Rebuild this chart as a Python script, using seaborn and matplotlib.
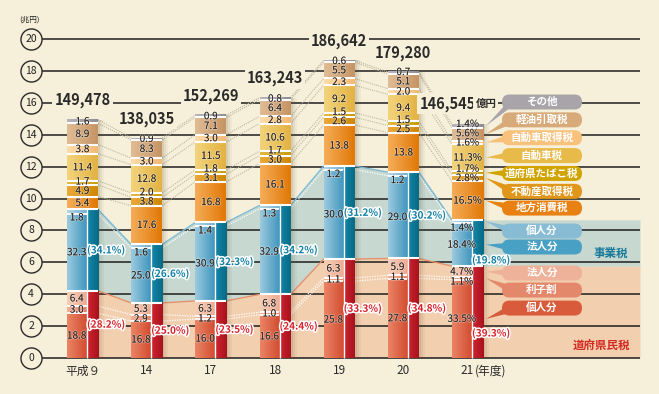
import numpy as np
import matplotlib
matplotlib.use("Agg")
import matplotlib.pyplot as plt
import matplotlib.patheffects as pe
from matplotlib.patches import FancyBboxPatch, Polygon
from matplotlib.colors import LinearSegmentedColormap
import seaborn as sns

# ---- data (shares in %, bottom to top) ----
years = ["平成９", "14", "17", "18", "19", "20", "21"]
totals = [149478, 138035, 152269, 163243, 186642, 179280, 146545]  # 億円

kenmin_kojin = [18.8, 16.8, 16.0, 16.6, 25.8, 27.8, 33.5]
kenmin_rishi = [3.0, 2.9, 1.2, 1.0, 1.1, 1.1, 1.1]
kenmin_hojin = [6.4, 5.3, 6.3, 6.8, 6.3, 5.9, 4.7]
jigyo_hojin = [32.3, 25.0, 30.9, 32.9, 30.0, 29.0, 18.4]
jigyo_kojin = [1.8, 1.6, 1.4, 1.3, 1.2, 1.2, 1.4]
chiho_shohi = [5.4, 17.6, 16.8, 16.1, 13.8, 13.8, 16.5]
fudosan = [4.9, 3.8, 3.1, 3.0, 2.6, 2.5, 2.8]
tabako = [1.7, 2.0, 1.8, 1.7, 1.5, 1.5, 1.7]
jidosha = [11.4, 12.8, 11.5, 10.6, 9.2, 9.4, 11.3]
shutoku = [3.8, 3.0, 3.0, 2.8, 2.3, 2.0, 1.6]
keiyu = [8.9, 8.3, 7.1, 6.4, 5.5, 5.1, 5.6]
sonota = [1.6, 0.9, 0.9, 0.8, 0.6, 0.7, 1.4]

kenmin_total = [28.2, 25.0, 23.5, 24.4, 33.3, 34.8, 39.3]
jigyo_total = [34.1, 26.6, 32.3, 34.2, 31.2, 30.2, 19.8]

legend_names = ["その他", "軽油引取税", "自動車取得税", "自動車税", "道府県たばこ税",
                "不動産取得税", "地方消費税", "個人分", "法人分", "法人分", "利子割", "個人分"]

# ---- styling ----
BG = "#f6f0da"
seg_colors = [
    ("#ea8566", "#d34c30"),  # 県民 個人
    ("#f3ae96", "#e3826a"),  # 利子割
    ("#f8cdb5", "#eeaa90"),  # 県民 法人
    ("#9ccadf", "#3f95bd"),  # 事業 法人
    ("#b2d6e6", "#6fb0d0"),  # 事業 個人
    ("#f5ad58", "#e17806"),  # 地方消費税
    ("#eaa838", "#cf8806"),  # 不動産取得税
    ("#e2b83a", "#c79a08"),  # たばこ
    ("#f3d47c", "#e2b242"),  # 自動車税
    ("#fddcaa", "#f5b972"),  # 自動車取得税
    ("#e0bc94", "#c69464"),  # 軽油引取税
    ("#b8b4bc", "#8e8a94"),  # その他
]
dark_kenmin = ("#cc2430", "#a8121c")
dark_jigyo = ("#1585a6", "#056a86")
legend_colors = ["#a8a4aa", "#d8aa7a", "#f8c27c", "#e8ba4a", "#d2a402", "#e09618",
                 "#e88012", "#88bcd4", "#48a0c4", "#eeb29a", "#e4886c", "#d85c3c"]
legend_seg = [11, 10, 9, 8, 7, 6, 5, 4, 3, 2, 1, 0]
legend_y = [16.05, 14.93, 13.81, 12.69, 11.57, 10.45, 9.40, 7.96, 6.96, 5.33, 4.26, 3.13]

sns.set_theme(style="white")
plt.rcParams["font.family"] = ["Noto Sans CJK JP", "DejaVu Sans"]

# pixel -> data helpers (layout only)
UX, UY = 1 / 64.17, 1 / 15.95
def X(p):
    return (p - 82.5) * UX
def Y(p):
    return (358 - p) * UY

shares = np.array([kenmin_kojin, kenmin_rishi, kenmin_hojin, jigyo_hojin, jigyo_kojin,
                   chiho_shohi, fudosan, tabako, jidosha, shutoku, keiyu, sonota])
scale = np.array(totals) / 1e4 / shares.sum(axis=0)
heights = shares * scale
tops = heights.cumsum(axis=0)
bottoms = tops - heights
n = len(years)
xs = np.arange(n)

hw = 15.5 * UX            # half bar width
lw_part = 19.5 * UX       # light (left) part width
dk_x0 = 5 * UX            # dark part starts at c + dk_x0

fig = plt.figure(figsize=(6.59, 3.94), dpi=100)
fig.patch.set_facecolor(BG)
ax = fig.add_axes([0, 0, 1, 1])
ax.set_facecolor(BG)
ax.axis("off")

grad = np.linspace(0, 1, 64).reshape(1, -1)
def grad_rect(x0, x1, y0, y1, c1, c2, z=4):
    cmap = LinearSegmentedColormap.from_list("g", [c1, c2])
    ax.imshow(grad, extent=(x0, x1, y0, y1), cmap=cmap, aspect="auto",
              interpolation="bilinear", zorder=z)

# ---- band fills between bars ----
kn_top = tops[2]
jg_top = tops[4]
bx, bk, bj = [], [], []
for i in range(n):
    bx += [xs[i] - hw, xs[i] + hw]
    bk += [kn_top[i]] * 2
    bj += [jg_top[i]] * 2
bx.append(X(640)); bk.append(kn_top[-1]); bj.append(jg_top[-1])
ax.fill_between(bx, 0, bk, color="#f2cfae", lw=0, zorder=1)
ax.fill_between(bx, bk, bj, color="#c6d8cf", lw=0, zorder=1)

# gridlines and circled ticks
ticks = np.arange(0, 21, 2)
ax.hlines(ticks, X(42), X(640), color="#1e1e1e", lw=1.1, zorder=2)
ax.scatter([X(31)] * len(ticks), ticks, s=230, facecolor=BG, edgecolor="#2a2a2a",
           linewidth=1.0, zorder=3)
for t in ticks:
    ax.text(X(31), t, str(t), ha="center", va="center", fontsize=7.5, color="#222", zorder=4)
ax.text(X(30), Y(20), "(兆円)", ha="center", va="center", fontsize=5.5, color="#222")

# connectors between bars
for i in range(n - 1):
    x0, x1 = xs[i] + hw, xs[i + 1] - hw
    for k in [0, 1, 3]:
        ax.plot([x0, x1], [tops[k][i], tops[k][i + 1]], color="white", lw=0.9,
                ls=(0, (1, 1)), zorder=2.5)
    for k in range(5, 12):
        ax.plot([x0, x1], [tops[k][i], tops[k][i + 1]], color="#bdb5a2", lw=0.8,
                ls=(0, (1, 1)), zorder=2.5)
    ax.plot([x0, x1], [kn_top[i], kn_top[i + 1]], color="#e8906a", lw=1.0, zorder=2.6)
    ax.plot([x0, x1], [jg_top[i], jg_top[i + 1]], color="#7cbad6", lw=1.0, zorder=2.6)

# ---- bars ----
for i in range(n):
    c = xs[i]
    top = tops[-1][i]
    for s, a in zip([2, 4, 6], [0.10, 0.07, 0.05]):
        ax.add_patch(plt.Rectangle((c + hw, 0), s * UX, top, color="#5a4a30",
                                   alpha=a, lw=0, zorder=3.5))
    for k in range(12):
        y0, y1 = bottoms[k][i], tops[k][i]
        if k < 5:
            grad_rect(c - hw, c - hw + lw_part, y0, y1, *seg_colors[k])
        else:
            grad_rect(c - hw, c + hw, y0, y1, *seg_colors[k])
    grad_rect(c + dk_x0, c + hw, 0, kn_top[i], *dark_kenmin)
    grad_rect(c + dk_x0, c + hw, kn_top[i], jg_top[i], *dark_jigyo)
    # separators
    for k in [0, 1, 3]:
        ax.hlines(tops[k][i], c - hw, c - hw + lw_part, color="white", lw=1.3, zorder=4.5)
    for k in [2] + list(range(4, 11)):
        ax.hlines(tops[k][i], c - hw, c + hw, color="white", lw=1.5, zorder=4.5)
    ax.vlines(c - hw + lw_part + 0.5 * UX, 0, jg_top[i], color="white", lw=1.0, zorder=4.5)

    suffix = "%" if i == n - 1 else ""
    # label positions: centre of segment, nudged apart where segments are thin
    ypos = (bottoms[:, i] + tops[:, i]) / 2
    ypos[4] = tops[4][i] - 0.5
    ypos[1] = min(ypos[1], ypos[2] - 0.62)
    for k in range(6, 12):
        ypos[k] = max(ypos[k], ypos[k - 1] + 0.58)
    for k in range(12):
        x = c - hw + lw_part / 2 if k < 5 else c
        ax.text(x, ypos[k], f"{shares[k][i]:.1f}{suffix}", ha="center", va="center",
                fontsize=7.2, color="#2b2622", zorder=5,
                path_effects=[pe.withStroke(linewidth=1.2, foreground=(1, 1, 1, 0.35))])
    # group labels
    if i == n - 1:
        ky = kn_top[i] * 0.27
        jy = kn_top[i] + (jg_top[i] - kn_top[i]) * 0.13
    else:
        ky = kn_top[i] / 2
        jy = (kn_top[i] + jg_top[i]) / 2
    ax.text(c + dk_x0 - 0.5 * UX, ky, f"({kenmin_total[i]:.1f}%)", ha="left", va="center",
            fontsize=7.2, color="#d8202a", fontweight="bold", zorder=5.5,
            path_effects=[pe.withStroke(linewidth=2.2, foreground="white")])
    ax.text(c + dk_x0 - 0.5 * UX, jy, f"({jigyo_total[i]:.1f}%)", ha="left", va="center",
            fontsize=7.2, color="#0f7ea4", fontweight="bold", zorder=5.5,
            path_effects=[pe.withStroke(linewidth=2.2, foreground="white")])
    # totals
    box = dict(facecolor=BG, edgecolor="none", pad=1.5)
    if i == n - 1:
        ax.text(c + 8 * UX, top + 1.3, f"{totals[i]:,}", ha="right", va="center",
                fontsize=10.5, fontweight="bold", color="#2a2a2a", bbox=box, zorder=5)
        ax.text(c + 8 * UX, top + 1.25, "億円", ha="left", va="center",
                fontsize=7.5, fontweight="bold", color="#2a2a2a", bbox=box, zorder=5)
    else:
        ax.text(c, top + 1.2, f"{totals[i]:,}", ha="center", va="center",
                fontsize=10.5, fontweight="bold", color="#2a2a2a", bbox=box, zorder=5)
    # x labels
    ax.text(c, Y(371), years[i], ha="center", va="center", fontsize=8.5, color="#2a2a2a")
ax.text(xs[-1] + 7 * UX, Y(371), "(年度)", ha="left", va="center", fontsize=8.5, color="#2a2a2a")

# ---- callout legend ----
bx0, bw, bh = X(502), 80 * UX, 15 * UY
last = n - 1
for name, col, k, ly in zip(legend_names, legend_colors, legend_seg, legend_y):
    tip_y = (bottoms[k][last] + tops[k][last]) / 2
    tip_x = xs[last] + hw + 3 * UX
    ax.add_patch(Polygon([[bx0 + 10 * UX, ly + 0.28], [bx0 + 10 * UX, ly - 0.28],
                          [tip_x, tip_y]], closed=True, color=col, lw=0, zorder=6))
    ax.add_patch(FancyBboxPatch((bx0, ly - bh / 2), bw, bh,
                                boxstyle=f"round,pad=0,rounding_size={7.5 * UX}",
                                mutation_aspect=UY / UX,
                                facecolor=col, edgecolor="none", zorder=7))
    ax.text(bx0 + bw / 2, ly, name, ha="center", va="center", fontsize=7.6,
            fontweight="bold", color="white", zorder=8)

ax.text(X(611), Y(253), "事業税", ha="center", va="center", fontsize=8.3,
        fontweight="bold", color="#1a7a9c")
ax.text(X(601), Y(345), "道府県民税", ha="center", va="center", fontsize=8.3,
        fontweight="bold", color="#d42a22")

ax.set_xlim(X(0), X(659))
ax.set_ylim(Y(394), Y(0))
fig.savefig("out.png", dpi=100, facecolor=BG)
